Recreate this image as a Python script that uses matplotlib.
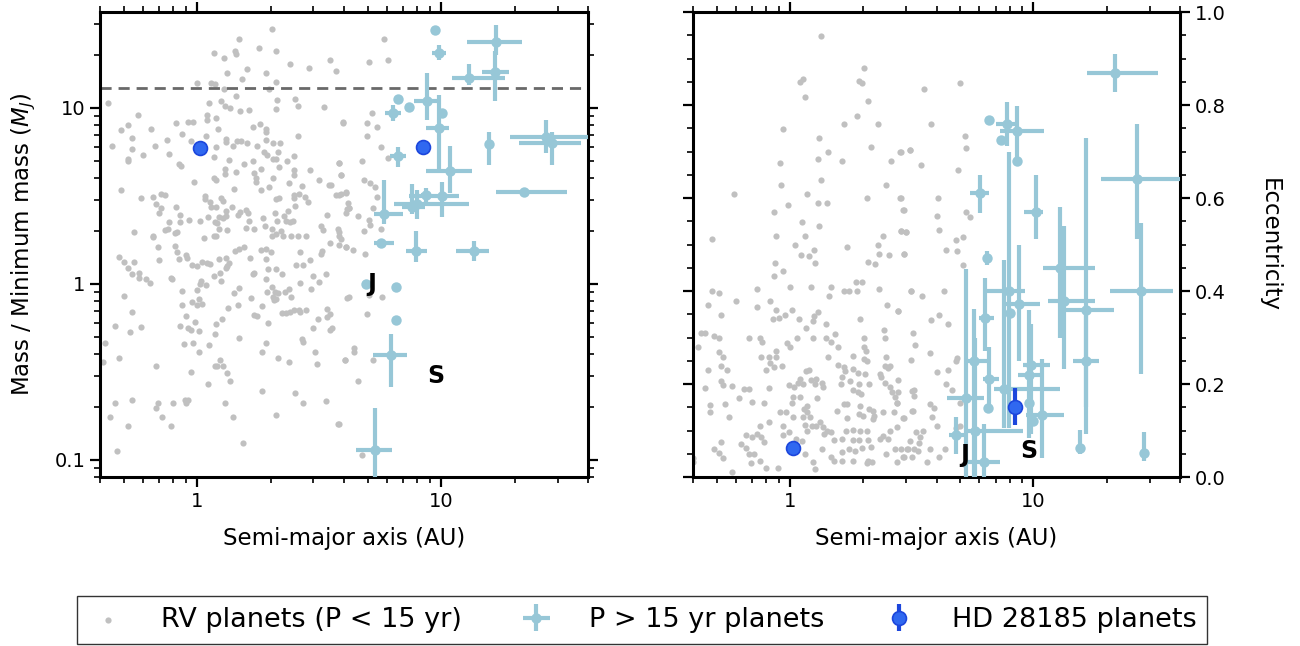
import numpy as np
import matplotlib.pyplot as plt
from matplotlib.ticker import FuncFormatter, NullFormatter, MultipleLocator

GREY = '#c0c0c0'
LIGHT = '#97c7d7'
HD_FACE = '#3068f0'
HD_EDGE = '#1c46dc'

# RV planets (P < 15 yr): semi-major axis (AU) and minimum mass (M_J)
rv_a = [2.03, 1.48, 1.17, 1.29, 1.43, 1.45, 1.79, 2.10, 2.40, 2.88, 3.51, 3.70, 1.33, 1.60,
        1.92, 1.53, 2.10, 1.00, 1.14, 1.18, 1.29, 1.98, 0.43, 1.12, 1.25, 1.30, 1.37, 1.45,
        1.50, 1.63, 2.13, 2.10, 2.51, 2.59, 3.32, 0.57, 0.52, 0.49, 0.65, 0.54, 0.45, 0.54,
        0.52, 0.52, 0.60, 0.67, 0.75, 0.77, 0.82, 0.87, 0.92, 0.96, 0.94, 1.09, 1.10, 1.10,
        1.19, 1.22, 1.20, 1.17, 1.31, 1.31, 1.35, 1.40, 1.46, 1.51, 1.60, 1.70, 1.81, 1.92,
        1.92, 1.91, 1.76, 1.88, 1.94, 2.04, 2.19, 2.15, 2.11, 2.04, 2.49, 2.60, 1.69, 1.55,
        1.45, 1.30, 1.30, 1.17, 1.20, 0.97, 0.84, 0.86, 0.49, 1.42, 1.71, 1.74, 1.74, 1.83,
        1.82, 1.98, 2.05, 2.16, 2.34, 2.49, 2.50, 2.38, 2.70, 2.91, 3.15, 3.47, 3.55, 3.83,
        3.88, 3.97, 4.07, 3.71, 3.81, 2.77, 2.86, 2.61, 2.50, 2.49, 2.52, 2.10, 2.17, 2.08,
        2.36, 2.27, 2.12, 2.32, 2.41, 2.48, 1.86, 1.58, 1.61, 1.50, 1.47, 1.39, 1.32, 1.31,
        1.28, 1.23, 1.18, 1.11, 1.03, 0.93, 0.85, 0.85, 0.82, 0.77, 0.70, 0.68, 0.71, 0.71,
        0.74, 0.66, 0.59, 0.55, 0.66, 0.74, 0.76, 0.81, 0.83, 1.08, 1.08, 1.13, 1.25, 1.28,
        1.19, 1.14, 1.21, 1.23, 1.33, 1.58, 1.64, 1.71, 1.89, 2.02, 2.10, 2.20, 2.02, 2.26,
        2.43, 2.58, 2.80, 3.23, 3.29, 3.77, 3.80, 3.41, 4.11, 4.17, 1.17, 1.20, 1.07,
        0.48, 0.50, 0.55, 0.52, 0.54, 0.58, 0.58, 0.62, 0.64, 0.69, 0.70, 0.66, 0.81, 0.83,
        0.84, 0.90, 0.91, 0.95, 1.00, 0.78, 0.79, 1.05, 1.10, 1.13, 1.04, 1.03, 1.09, 1.17,
        1.24, 1.25, 1.23, 1.31, 1.33, 1.35, 1.32, 1.43, 1.49, 1.56, 1.65, 1.71, 1.70, 1.83,
        1.91, 1.92, 2.00, 1.92, 1.94, 2.03, 1.95, 2.11, 2.22, 2.09, 2.04, 2.11, 2.07, 2.15,
        2.29, 2.39, 2.43, 2.31, 2.23, 2.41, 2.50, 2.62, 2.80, 2.65, 2.63, 2.73, 2.89, 2.55,
        2.65, 2.98, 2.93, 3.17, 3.21, 3.25, 3.52, 3.82, 4.09, 3.38, 3.41, 3.52, 3.41, 3.14,
        2.98, 2.73, 2.68, 3.03, 3.10, 3.57, 3.49, 4.13, 4.05, 0.87, 1.00, 0.87, 0.95, 1.00,
        1.02, 1.05, 0.90, 0.98, 0.92, 0.85, 0.94, 1.02, 0.88, 0.96, 1.02, 1.12, 1.18, 1.20,
        1.26, 1.34, 1.42, 1.49, 1.47, 1.66, 1.71, 1.76, 1.85, 1.95, 1.91, 1.85, 1.49, 2.15,
        2.39, 1.21, 1.18, 1.28, 1.24, 1.33, 1.36, 1.11, 1.40, 1.30, 1.54, 1.84, 2.10, 2.53,
        2.71, 3.36, 3.78, 0.50, 0.54, 0.53, 0.46, 0.59, 0.42, 0.41, 0.48, 0.68, 0.46, 0.54,
        0.44, 0.52, 0.69, 0.68, 0.72, 0.78, 0.80, 0.89, 0.90, 0.92, 0.47, 0.94,
        5.85, 5.07, 6.07, 5.23, 3.98, 4.95, 5.46, 4.95, 5.65, 6.08, 4.72, 3.83, 3.89, 4.85,
        5.10, 5.35, 4.08, 3.89, 5.45, 4.18, 5.24,
        4.18, 4.08, 4.55, 5.05, 5.10, 4.85, 5.67, 3.83, 3.89, 4.08, 4.37, 4.88, 4.18, 5.08,
        5.72, 4.95, 4.40, 4.40, 4.05, 5.28, 4.55, 3.83, 4.76]
rv_m = [28.0, 24.7, 20.4, 19.3, 20.9, 20.1, 22.0, 20.9, 17.7, 16.9, 18.6, 16.2, 15.7, 16.6,
        15.8, 14.5, 14.0, 13.8, 13.9, 13.7, 12.8, 12.8, 10.7, 10.6, 10.9, 10.3, 9.95, 11.7,
        9.65, 9.75, 11.1, 9.9, 11.2, 10.3, 10.1, 9.1, 7.95, 7.45, 7.6, 6.7, 6.05, 5.8,
        4.97, 5.1, 5.4, 6.1, 6.6, 5.5, 8.2, 7.1, 8.3, 8.3, 6.45, 6.95, 8.5, 9.1,
        8.8, 7.6, 6.0, 5.25, 6.65, 6.4, 5.05, 6.1, 6.5, 6.5, 6.3, 7.8, 8.1, 7.6,
        7.3, 6.55, 6.1, 5.6, 5.4, 6.3, 6.3, 5.6, 5.15, 5.15, 5.3, 6.95, 5.0, 4.82,
        4.33, 4.5, 4.2, 3.97, 3.9, 3.8, 4.8, 4.65, 3.4, 3.44, 4.25, 4.0, 3.8, 4.5,
        3.43, 3.55, 4.0, 4.6, 4.97, 4.45, 4.15, 3.72, 3.62, 4.45, 3.9, 3.64, 3.64, 4.87,
        4.13, 8.3, 3.3, 3.2, 3.2, 3.1, 2.9, 3.22, 3.2, 3.06, 2.78, 3.03, 3.08, 2.54,
        2.6, 2.42, 2.29, 2.29, 2.26, 2.27, 2.36, 2.63, 2.54, 2.57, 2.46, 2.72, 2.6, 2.43,
        2.37, 2.4, 2.26, 2.4, 2.28, 2.3, 2.25, 2.45, 2.72, 2.25, 2.53, 2.83, 2.7, 3.24,
        3.2, 3.1, 3.06, 1.98, 1.85, 2.01, 2.05, 1.94, 1.98, 3.15, 3.05, 2.9, 3.08, 2.95,
        2.72, 2.72, 2.23, 2.05, 2.01, 2.08, 2.29, 2.05, 2.14, 2.05, 1.91, 2.0, 1.88, 1.86,
        1.88, 1.88, 1.86, 2.14, 2.02, 2.05, 1.96, 2.45, 2.67, 2.87, 1.88, 1.86, 1.83,
        1.43, 1.33, 1.33, 1.23, 1.14, 1.15, 1.08, 1.07, 1.01, 1.63, 1.36, 1.87, 1.65, 1.51,
        1.38, 1.45, 1.40, 1.28, 1.27, 1.08, 1.06, 1.33, 1.31, 1.29, 1.04, 1.00, 0.98, 1.11,
        1.16, 1.04, 1.38, 1.40, 1.27, 1.31, 1.23, 1.54, 1.58, 1.61, 1.41, 1.16, 1.14, 1.56,
        1.58, 1.38, 1.51, 1.07, 0.90, 0.96, 1.22, 1.22, 1.14, 0.90, 0.84, 0.82, 0.81, 0.89,
        0.90, 0.94, 0.84, 0.68, 0.68, 0.69, 0.71, 0.71, 0.71, 0.69, 1.51, 1.28, 1.36, 1.28,
        1.01, 1.11, 0.94, 1.02, 1.48, 1.53, 1.71, 1.67, 1.63, 1.14, 0.72, 0.67, 0.65, 0.63,
        0.56, 0.47, 0.485, 0.41, 0.35, 0.56, 0.545, 0.83, 0.37, 0.91, 0.92, 0.76, 0.79, 0.76,
        0.82, 0.77, 0.66, 0.61, 0.56, 0.58, 0.545, 0.54, 0.455, 0.46, 0.41, 0.45, 0.52, 0.595,
        0.635, 0.73, 0.89, 0.95, 0.76, 0.83, 0.665, 0.655, 0.75, 0.60, 0.46, 0.41, 0.49, 0.38,
        0.36, 0.34, 0.34, 0.34, 0.37, 0.31, 0.28, 0.27, 0.175, 0.21, 0.124, 0.245, 0.18, 0.24,
        0.21, 0.215, 0.16, 0.85, 0.69, 0.53, 0.58, 0.57, 0.46, 0.36, 0.38, 0.34, 0.21, 0.22,
        0.176, 0.155, 0.21, 0.196, 0.175, 0.155, 0.21, 0.22, 0.21, 0.22, 0.113, 0.315,
        24.5, 18.1, 18.7, 9.4, 8.25, 8.25, 7.8, 6.9, 6.0, 5.2, 5.0, 4.87, 4.13, 3.9,
        3.75, 3.56, 3.33, 3.22, 3.12, 2.71, 2.68,
        2.7, 2.54, 2.42, 2.32, 2.16, 2.0, 2.05, 1.88, 1.81, 1.63, 1.56, 1.48, 0.84, 0.86,
        0.84, 0.67, 0.43, 0.41, 0.37, 0.37, 0.28, 0.16, 0.106]

# RV planets (P < 15 yr): semi-major axis (AU) and eccentricity
rv_ecc_a = [1.34, 2.02, 1.10, 1.13, 1.92, 1.97, 1.15, 2.10, 1.89, 1.67, 2.29, 0.94, 1.32, 2.16,
            1.43, 2.85, 3.12, 1.31, 1.63, 2.61, 0.91, 0.92, 1.34, 2.47, 0.59, 1.17, 0.98, 1.30,
            1.42, 2.08, 2.85, 2.93, 0.86, 1.12, 1.32, 2.86, 2.99, 0.88, 1.15, 2.40, 0.48,
            1.05, 1.11, 1.20, 1.26, 1.27, 0.87, 0.86, 0.94, 1.72, 2.10, 2.24, 2.31, 2.33, 2.56,
            2.94, 0.48, 0.51, 0.46, 0.52, 0.60, 0.73, 0.73, 0.83, 0.88, 0.85, 0.90, 0.95, 1.02,
            1.00, 1.22, 1.47, 1.45, 1.67, 1.75, 1.86, 1.98, 1.89, 2.32, 2.50, 1.94, 2.77, 3.13,
            1.09, 1.16, 1.24, 1.26, 1.30, 1.41, 1.53, 1.40, 1.48, 1.24, 1.07, 0.97, 1.00, 0.68,
            0.75, 0.77, 0.76, 0.82, 0.83, 0.88, 0.88, 0.86, 0.93, 0.80, 0.42, 0.43, 0.45, 0.49,
            0.51, 0.51, 0.53, 0.52, 0.55, 0.46, 0.52, 0.53, 0.58, 0.45, 0.62, 0.65, 0.68, 0.70,
            0.78, 0.82, 0.47, 0.47, 0.54, 0.56, 0.75, 0.82, 0.91, 0.96, 0.94, 1.03, 0.94, 1.02,
            0.99, 1.04, 1.08, 1.13, 1.03, 1.10, 1.10, 1.16, 1.20, 1.22, 1.28, 1.27, 1.35, 1.37,
            1.29, 1.17, 1.14, 1.18, 1.13, 1.21, 1.15, 1.18, 1.23, 1.28, 1.33, 1.37, 1.42, 1.38,
            1.48, 1.51, 1.63, 1.70, 1.81, 1.94, 2.07, 1.93, 2.10, 1.97, 1.85, 1.63, 1.75, 1.81,
            1.63, 1.51, 1.47, 1.35, 1.24, 1.15, 1.27, 1.12, 1.06, 0.99, 0.89, 0.80, 0.75, 0.68,
            0.69, 0.63, 0.66, 0.71, 0.78, 0.76, 0.73, 0.66, 0.70, 0.58, 0.53, 0.51, 0.49, 0.52,
            0.40, 0.40, 2.15, 2.07, 2.22, 2.20, 2.12, 2.20, 2.40, 1.99, 1.92, 1.94, 1.82, 1.91,
            1.71, 1.67, 1.56, 1.71, 1.81, 2.34, 2.52, 2.70, 2.58, 2.76, 3.12, 2.93, 2.76, 3.03,
            3.24, 2.40, 2.48, 2.10, 2.17, 3.13, 2.46, 2.54, 2.58, 2.34, 2.37, 2.46, 2.58, 2.62,
            2.70, 2.76, 3.16, 3.21, 2.93, 2.68, 2.04, 2.12, 1.93, 1.96, 1.91, 2.01, 2.06, 2.02,
            2.01, 1.82, 2.07, 1.66, 1.69, 1.63, 1.62, 1.76, 1.81, 1.58, 1.44, 1.57, 2.44, 2.46,
            2.47,
            3.57, 5.00, 3.78, 5.25, 5.30, 2.84, 3.11, 3.47, 4.90, 2.84, 4.05, 2.92, 4.02, 5.30,
            5.50, 2.87, 3.00, 4.08, 4.83, 5.13, 4.37, 4.87, 2.94, 5.15,
            3.14, 3.48, 4.30, 2.78, 3.80, 4.08, 4.46, 3.21, 3.27, 3.76, 4.87, 4.80, 4.00, 4.46,
            2.78, 4.37, 4.62, 2.78, 3.24, 3.24, 2.74, 3.76, 3.90, 3.18, 2.92, 3.83, 4.02, 5.00,
            4.83, 3.31, 3.51, 3.43, 3.38, 2.87, 3.05, 3.35, 3.76, 4.33, 2.92, 3.18, 4.10, 3.66,
            5.00, 5.20]
rv_ecc = [0.948, 0.879, 0.850, 0.855, 0.852, 0.848, 0.818, 0.809, 0.777, 0.759, 0.759, 0.749,
          0.728, 0.709, 0.700, 0.699, 0.704, 0.684, 0.679, 0.679, 0.676, 0.629, 0.639, 0.627,
          0.609, 0.609, 0.586, 0.589, 0.589, 0.599, 0.599, 0.574, 0.569, 0.548, 0.539, 0.529,
          0.526, 0.519, 0.519, 0.519, 0.512,
          0.499, 0.478, 0.476, 0.489, 0.460, 0.460, 0.432, 0.442, 0.494, 0.462, 0.458, 0.500,
          0.480, 0.478, 0.480, 0.399, 0.395, 0.370, 0.349, 0.379, 0.404, 0.365, 0.379, 0.360,
          0.340, 0.341, 0.349, 0.359, 0.409, 0.409, 0.409, 0.389, 0.399, 0.399, 0.419, 0.419,
          0.399, 0.405, 0.369, 0.340, 0.358, 0.399, 0.340, 0.320, 0.336, 0.347, 0.354, 0.329,
          0.307, 0.299, 0.291, 0.299, 0.299, 0.288, 0.279, 0.299, 0.299, 0.290, 0.259, 0.259,
          0.246, 0.270, 0.259, 0.236, 0.239, 0.230, 0.279, 0.310, 0.310, 0.303, 0.299, 0.269,
          0.259, 0.239, 0.230, 0.230, 0.207, 0.198, 0.196, 0.191, 0.169, 0.190, 0.190, 0.162,
          0.159, 0.191, 0.154, 0.140, 0.157, 0.130, 0.110, 0.119, 0.139, 0.139, 0.110, 0.130,
          0.091, 0.160, 0.198, 0.193, 0.203, 0.201, 0.173, 0.171, 0.210, 0.228, 0.230, 0.209,
          0.210, 0.200, 0.203, 0.193, 0.170, 0.153, 0.146, 0.139, 0.129, 0.129, 0.111, 0.099,
          0.110, 0.110, 0.119, 0.108, 0.099, 0.092, 0.096, 0.079, 0.081, 0.099, 0.080, 0.099,
          0.099, 0.079, 0.079, 0.063, 0.056, 0.054, 0.060, 0.034, 0.034, 0.034, 0.044, 0.060,
          0.032, 0.049, 0.017, 0.078, 0.081, 0.096, 0.019, 0.020, 0.034, 0.049, 0.031, 0.070,
          0.063, 0.050, 0.075, 0.085, 0.092, 0.091, 0.085, 0.011, 0.040, 0.052, 0.060, 0.076,
          0.040, 0.032, 0.065, 0.031, 0.131, 0.124, 0.146, 0.142, 0.139, 0.131, 0.135, 0.153,
          0.187, 0.182, 0.157, 0.157, 0.142, 0.126, 0.101, 0.081, 0.081, 0.060, 0.099, 0.108,
          0.078, 0.042, 0.033, 0.060, 0.060, 0.088, 0.050, 0.034, 0.033, 0.251, 0.239, 0.234,
          0.239, 0.221, 0.214, 0.203, 0.193, 0.182, 0.171, 0.159, 0.185, 0.142, 0.126, 0.139,
          0.221, 0.200, 0.201, 0.178, 0.223, 0.254, 0.272, 0.279, 0.298, 0.261, 0.250, 0.237,
          0.228, 0.214, 0.200, 0.207, 0.232, 0.280, 0.259, 0.241, 0.317, 0.299, 0.259,
          0.835, 0.848, 0.759, 0.733, 0.708, 0.698, 0.704, 0.670, 0.660, 0.599, 0.600, 0.574,
          0.562, 0.569, 0.559, 0.529, 0.526, 0.531, 0.509, 0.516, 0.489, 0.486, 0.479, 0.457,
          0.399, 0.390, 0.399, 0.358, 0.338, 0.349, 0.330, 0.310, 0.284, 0.266, 0.257, 0.250,
          0.226, 0.230, 0.209, 0.200, 0.187, 0.182, 0.187, 0.175, 0.160, 0.158, 0.149, 0.141,
          0.126, 0.129, 0.110, 0.160, 0.106, 0.096, 0.098, 0.085, 0.074, 0.060, 0.060, 0.055,
          0.060, 0.060, 0.042, 0.042, 0.042, 0.032, 0.110, 0.027]

# planets with P > 15 yr, mass panel (value and lower / upper bounds)
lp_a = [9.46, 9.8, 16.8, 16.6, 13.0, 6.67, 7.4, 8.77, 6.37, 10.1, 9.8, 10.9, 15.7, 26.8,
        28.4, 21.8, 6.67, 5.85, 7.98, 8.69, 10.1, 7.6, 5.69, 7.91, 13.6, 4.94, 6.55, 6.55,
        6.25, 5.38]
lp_a_lo = [9.46, 9.2, 12.8, 14.7, 11.1, 6.67, 7.4, 7.76, 5.9, 10.1, 8.7, 8.7, 15.7, 19.1,
           20.8, 16.8, 6.2, 5.33, 6.43, 8.3, 7.4, 6.9, 5.33, 7.2, 11.5, 4.8, 6.55, 6.55,
           5.28, 4.46]
lp_a_hi = [9.46, 10.5, 21.4, 18.9, 18.2, 6.67, 7.4, 9.8, 6.87, 10.1, 10.8, 13.4, 15.7, 40.0,
           37.6, 32.7, 7.2, 7.0, 13.0, 9.1, 11.8, 8.6, 6.43, 8.77, 15.7, 5.1, 6.55, 6.55,
           7.26, 6.31]
lp_m = [27.6, 20.5, 23.6, 16.0, 14.8, 11.2, 10.1, 10.9, 9.4, 9.4, 7.7, 4.4, 6.26, 6.86,
        6.35, 3.31, 5.29, 2.49, 2.83, 3.18, 3.14, 2.72, 1.71, 1.54, 1.54, 1.0, 0.96, 0.626,
        0.392, 0.114]
lp_m_lo = [26.0, 18.7, 19.9, 11.0, 13.5, 11.2, 10.1, 8.5, 8.45, 9.4, 4.47, 3.3, 4.76, 5.57,
           4.76, 3.31, 4.6, 2.2, 2.33, 2.9, 2.4, 2.5, 1.71, 1.33, 1.35, 0.95, 0.96, 0.626,
           0.258, 0.06]
lp_m_hi = [29.3, 22.6, 29.4, 21.0, 17.7, 11.2, 10.1, 15.7, 10.4, 9.4, 11.8, 6.1, 7.3, 8.5,
           7.3, 3.31, 6.0, 3.9, 3.4, 3.5, 3.8, 3.7, 1.71, 1.99, 1.75, 1.05, 0.96, 0.626,
           0.52, 0.197]

# planets with P > 15 yr, eccentricity panel
lpe_a = [21.7, 6.6, 7.82, 8.6, 7.33, 8.6, 6.01, 10.2, 26.7, 27.7, 6.42, 16.5, 16.5, 12.8,
         13.4, 15.6, 28.5, 6.3, 7.97, 8.76, 8.0, 5.68, 5.31, 6.6, 7.6, 6.48, 5.78, 6.24,
         4.83, 9.82, 9.6, 10.8, 10.0, 9.6]
lpe_a_lo = [16.6, 6.6, 7.05, 7.26, 7.33, 8.6, 5.47, 9.19, 19.0, 20.7, 6.42, 12.7, 14.6, 11.0,
            11.5, 15.6, 28.5, 5.95, 6.36, 7.75, 8.0, 5.21, 4.4, 6.2, 6.86, 6.48, 5.21, 5.21,
            4.52, 9.1, 8.68, 9.36, 10.0, 9.6]
lpe_a_hi = [32.5, 6.6, 8.68, 11.1, 7.33, 8.6, 6.6, 11.0, 45.0, 37.5, 6.42, 21.5, 18.6, 17.9,
            17.9, 15.6, 28.5, 6.86, 9.27, 10.6, 8.0, 6.42, 6.24, 7.2, 12.9, 6.48, 9.1, 7.26,
            5.17, 11.7, 11.0, 13.3, 10.0, 9.6]
lpe_e = [0.869, 0.767, 0.759, 0.744, 0.724, 0.679, 0.61, 0.569, 0.64, 0.399, 0.47, 0.36,
         0.25, 0.45, 0.379, 0.0625, 0.052, 0.343, 0.399, 0.371, 0.353, 0.25, 0.17, 0.211,
         0.19, 0.149, 0.099, 0.032, 0.09, 0.241, 0.22, 0.134, 0.121, 0.159]
lpe_e_lo = [0.828, 0.767, 0.711, 0.681, 0.724, 0.679, 0.567, 0.511, 0.511, 0.222, 0.455, 0.093,
            0.15, 0.30, 0.233, 0.05, 0.034, 0.27, 0.106, 0.25, 0.353, 0.0, 0.0, 0.149,
            0.106, 0.149, 0.0, 0.0, 0.05, 0.093, 0.084, 0.041, 0.121, 0.159]
lpe_e_hi = [0.909, 0.767, 0.806, 0.797, 0.724, 0.679, 0.649, 0.649, 0.759, 0.547, 0.485, 0.728,
            0.35, 0.58, 0.539, 0.101, 0.097, 0.427, 0.698, 0.498, 0.353, 0.362, 0.448, 0.28,
            0.466, 0.149, 0.30, 0.114, 0.129, 0.33, 0.36, 0.254, 0.121, 0.159]

# HD 28185 b and c
hd_a = [1.03, 8.4]
hd_m = [5.9, 6.0]
hd_e = [0.062, 0.151]
hd_e_err = [0.0, 0.04]

# Jupiter and Saturn for reference
solar_names = ['J', 'S']
solar_a = [5.2, 9.54]
solar_m = [1.0, 0.3]
solar_e = [0.048, 0.056]

deuterium_limit = 13.0


def bounds_to_err(val, lo, hi):
    val = np.asarray(val)
    return np.vstack([val - np.asarray(lo), np.asarray(hi) - val])


def style_axis(ax):
    ax.set_xscale('log')
    ax.set_xlim(0.4, 40)
    ax.xaxis.set_major_formatter(FuncFormatter(lambda v, _: f'{v:g}'))
    ax.xaxis.set_minor_formatter(NullFormatter())
    ax.tick_params(which='both', direction='out', top=True, right=True, labelsize=14)
    ax.tick_params(which='major', length=7, width=1.6)
    ax.tick_params(which='minor', length=4, width=1.2)
    for spine in ax.spines.values():
        spine.set_linewidth(2.2)
    ax.set_xlabel('Semi-major axis (AU)', fontsize=16.5, labelpad=12)


fig = plt.figure(figsize=(13, 6.46), dpi=100)
ax1 = fig.add_axes([0.0769, 0.2616, 0.3754, 0.7198])
ax2 = fig.add_axes([0.5331, 0.2616, 0.3746, 0.7198])

err_kw = dict(fmt='o', color=LIGHT, ms=7.5, mew=0, elinewidth=3, capsize=0, zorder=3)
hd_kw = dict(fmt='o', mfc=HD_FACE, mec=HD_EDGE, ecolor=HD_EDGE, ms=10, mew=1.2,
             elinewidth=3, capsize=0, zorder=5)

# mass vs semi-major axis
h_rv = ax1.scatter(rv_a, rv_m, s=20, color=GREY, lw=0, zorder=1)
h_lp = ax1.errorbar(lp_a, lp_m, xerr=bounds_to_err(lp_a, lp_a_lo, lp_a_hi),
                    yerr=bounds_to_err(lp_m, lp_m_lo, lp_m_hi), **err_kw)
h_hd = ax1.errorbar(hd_a, hd_m, yerr=[0.2, 0.2], **hd_kw)
ax1.axhline(deuterium_limit, color='dimgray', ls='--', lw=2, dashes=(4, 2.5), zorder=2)
for name, a, m in zip(solar_names, solar_a, solar_m):
    ax1.text(a, m, name, ha='center', va='center', fontsize=17, fontweight='bold', zorder=6)
style_axis(ax1)
ax1.set_yscale('log')
ax1.set_ylim(0.08, 35)
ax1.yaxis.set_major_formatter(FuncFormatter(lambda v, _: f'{v:g}'))
ax1.yaxis.set_minor_formatter(NullFormatter())
ax1.set_ylabel('Mass / Minimum mass ($M_J$)', fontsize=16.5, labelpad=12)

# eccentricity vs semi-major axis
ax2.scatter(rv_ecc_a, rv_ecc, s=20, color=GREY, lw=0, zorder=1)
ax2.errorbar(lpe_a, lpe_e, xerr=bounds_to_err(lpe_a, lpe_a_lo, lpe_a_hi),
             yerr=bounds_to_err(lpe_e, lpe_e_lo, lpe_e_hi), **err_kw)
ax2.errorbar(hd_a, hd_e, yerr=hd_e_err, **hd_kw)
for name, a, e in zip(solar_names, solar_a, solar_e):
    ax2.text(a, e, name, ha='center', va='center', fontsize=17, fontweight='bold', zorder=6)
style_axis(ax2)
ax2.set_ylim(0, 1.0)
ax2.yaxis.set_major_locator(MultipleLocator(0.2))
ax2.yaxis.set_minor_locator(MultipleLocator(0.05))
ax2.yaxis.set_major_formatter(FuncFormatter(lambda v, _: f'{v:.1f}'))
ax2.tick_params(axis='y', which='both', labelleft=False, labelright=True)
ax2.yaxis.set_label_position('right')
ax2.set_ylabel('Eccentricity', fontsize=16.5, rotation=270, labelpad=40)

fig.legend([h_rv, h_lp, h_hd],
           ['RV planets (P < 15 yr)', 'P > 15 yr planets', 'HD 28185 planets'],
           loc='lower center', bbox_to_anchor=(0.494, 0.003), ncol=3, fontsize=19.5,
           fancybox=False, edgecolor='#333333', framealpha=1, columnspacing=2.0,
           handlelength=1.5, handletextpad=1.2, borderpad=0.4, borderaxespad=0)

fig.savefig('out.png', dpi=100)
